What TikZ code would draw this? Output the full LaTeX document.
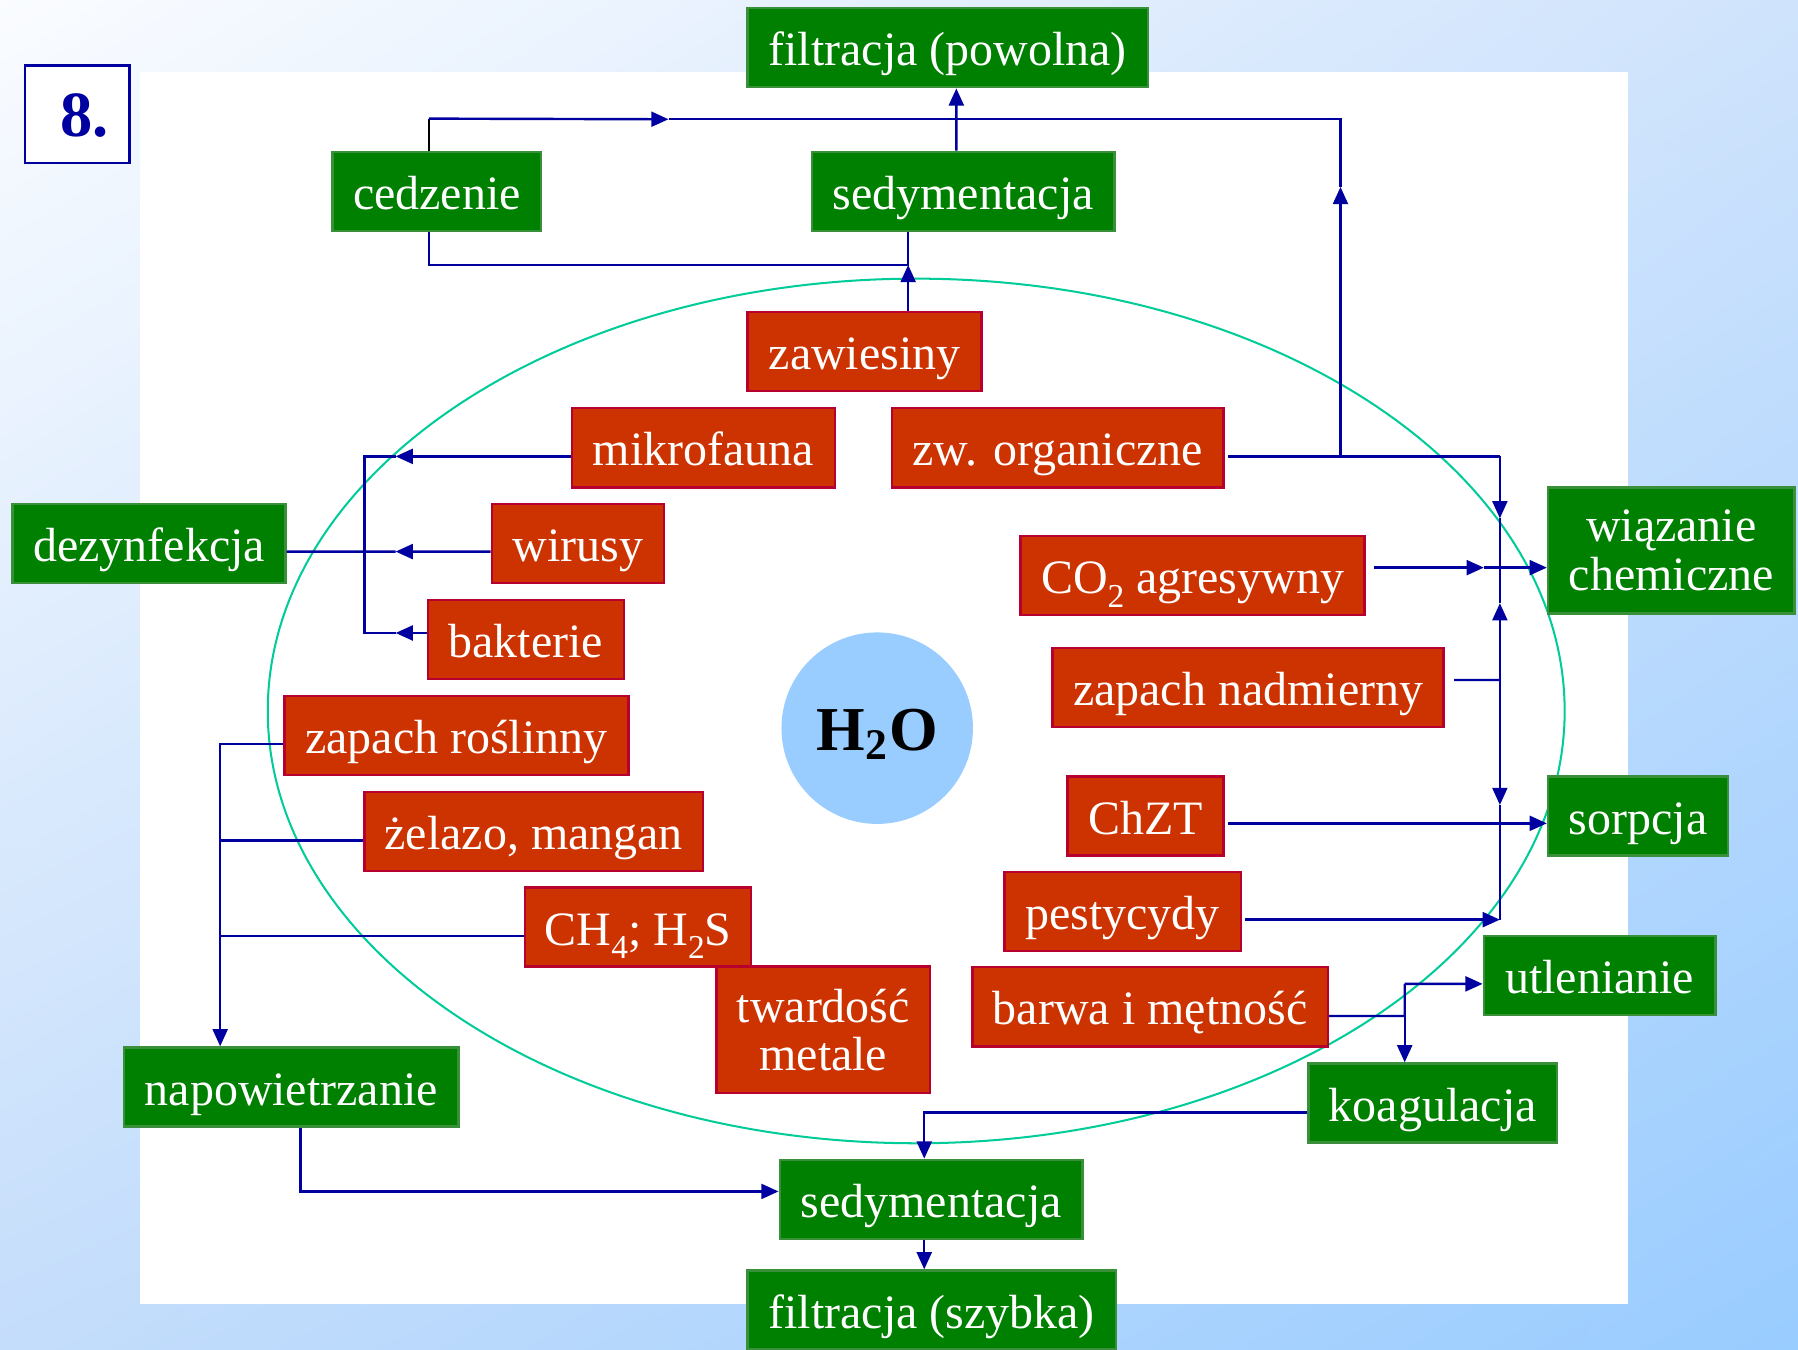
\documentclass[tikz,border=0pt]{standalone}
\usepackage{fontspec}
\setmainfont{Liberation Serif}
\usetikzlibrary{arrows.meta,shadings}
\definecolor{navy}{HTML}{0000A0}
\definecolor{leaf}{HTML}{008000}
\definecolor{leafline}{HTML}{3A8F3A}
\definecolor{brick}{HTML}{CC3300}
\definecolor{brickline}{HTML}{B8002E}
\definecolor{ring}{HTML}{00CC99}
\definecolor{sky}{HTML}{99CCFF}
\definecolor{bgul}{HTML}{FAFCFF}
\definecolor{bgur}{HTML}{CFE3FC}
\definecolor{bgll}{HTML}{C4DDFB}
\definecolor{bglr}{HTML}{99CCFF}
\newcommand\chsub[1]{\raisebox{-0.28em}{\fontsize{8.3}{9}\selectfont #1}}
\tikzset{
  tile/.style={
    inner sep=0pt, minimum height=0.69cm, line width=0.6pt,
    align=center, text=white, font=\fontsize{11.9}{12}\selectfont
  },
  proc/.style={tile, draw=leafline, fill=leaf, text height=9pt, text depth=0pt},
  issue/.style={tile, draw=brickline, fill=brick, text height=9pt, text depth=0pt},
  proctwo/.style={tile, draw=leafline, fill=leaf, minimum height=1.10cm},
  issuetwo/.style={tile, draw=brickline, fill=brick, minimum height=1.10cm},
  wire/.style={draw=navy, line width=0.6pt},
  arrow/.style={wire, -{Triangle[length=1.5mm,width=1.3mm]}}
}

\begin{document}
\begin{tikzpicture}
  \useasboundingbox (0,0) rectangle (15.68,-11.77);
  \shade[upper left=bgul, upper right=bgur, lower left=bgll, lower right=bglr]
    (0,0) rectangle (15.68,-11.77);
  \fill[white] (1.22,-0.63) rectangle (14.20,-11.37);
  \draw[ring, line width=0.5pt] (7.99,-6.20) ellipse [x radius=5.655, y radius=3.77];

  \node[draw=navy, fill=white, line width=0.6pt, minimum width=0.91cm, minimum height=0.85cm,
        inner sep=0pt, text=navy, text height=11pt, text depth=0pt,
        font=\fontsize{16}{16}\selectfont\bfseries] (num) at (0.675,-0.995) {\hspace{0.12cm}8.};
  \node[circle, fill=sky, minimum size=1.67cm, inner sep=0pt, text height=11pt, text depth=0pt,
        font=\fontsize{15.5}{16}\selectfont\bfseries] (h2o) at (7.65,-6.35) {H\textsubscript{2}O};

  \node[proc, minimum width=3.49cm] (filtP) at (8.265,-0.415) {filtracja (powolna)};
  \node[proc, minimum width=1.82cm] (cedz) at (3.81,-1.67) {cedzenie};
  \node[proc, minimum width=2.64cm] (sedT) at (8.40,-1.67) {sedymentacja};
  \node[issue, minimum width=2.04cm] (zaw) at (7.54,-3.065) {zawiesiny};
  \node[issue, minimum width=2.29cm] (mikro) at (6.135,-3.905) {mikrofauna};
  \node[issue, minimum width=2.89cm] (org) at (9.225,-3.905) {zw. organiczne};
  \node[proc, minimum width=2.38cm] (dez) at (1.30,-4.74) {dezynfekcja};
  \node[issue, minimum width=1.50cm] (wir) at (5.04,-4.74) {wirusy};
  \node[issue, minimum width=3.00cm] (co2) at (10.40,-5.02) {CO\chsub{2} agresywny};
  \node[proctwo, minimum width=2.15cm] (wiaz) at (14.575,-4.80) {wiązanie\\chemiczne};
  \node[issue, minimum width=1.71cm] (bakt) at (4.585,-5.575) {bakterie};
  \node[issue, minimum width=3.41cm] (zapN) at (10.885,-5.995) {zapach nadmierny};
  \node[issue, minimum width=3.00cm] (zapR) at (3.98,-6.415) {zapach roślinny};
  \node[issue, minimum width=2.95cm] (fe) at (4.655,-7.25) {żelazo, mangan};
  \node[issue, minimum width=1.36cm] (chzt) at (9.99,-7.115) {ChZT};
  \node[proc, minimum width=1.57cm] (sorp) at (14.285,-7.115) {sorpcja};
  \node[issue, minimum width=2.06cm] (pest) at (9.79,-7.95) {pestycydy};
  \node[issue, minimum width=1.97cm] (gas) at (5.565,-8.085) {CH\chsub{4}; H\chsub{2}S};
  \node[proc, minimum width=2.02cm] (utl) at (13.95,-8.505) {utlenianie};
  \node[issuetwo, minimum width=1.86cm] (tward) at (7.18,-8.98) {twardość\\metale};
  \node[issue, minimum width=3.10cm] (barwa) at (10.03,-8.78) {barwa i mętność};
  \node[proc, minimum width=2.92cm] (napow) at (2.54,-9.48) {napowietrzanie};
  \node[proc, minimum width=2.17cm] (koag) at (12.495,-9.62) {koagulacja};
  \node[proc, minimum width=2.64cm] (sedB) at (8.12,-10.46) {sedymentacja};
  \node[proc, minimum width=3.21cm] (filtS) at (8.125,-11.425) {filtracja (szybka)};

  \coordinate (cTip) at (5.83,-1.04);
  \coordinate (tr) at (11.69,-1.04);
  \coordinate (oTip) at (11.69,-1.63);
  \coordinate (oJ) at (11.69,-3.98);
  \coordinate (zTip) at (7.92,-2.31);
  \coordinate (bTop) at (13.08,-3.98);
  \coordinate (bTip1) at (13.08,-4.52);
  \coordinate (bCo2) at (13.08,-4.95);
  \coordinate (bTip2) at (13.08,-5.26);
  \coordinate (bZap) at (13.08,-5.93);
  \coordinate (bTip3) at (13.08,-7.02);
  \coordinate (bBot) at (13.08,-8.02);
  \coordinate (c2Tip) at (12.94,-4.95);
  \coordinate (kJ) at (12.25,-8.86);
  \coordinate (kTop) at (12.25,-8.58);
  \coordinate (lBus) at (1.92,-6.49);
  \coordinate (mTip) at (3.45,-3.98);
  \coordinate (wTip) at (3.45,-4.81);
  \coordinate (bkTip) at (3.45,-5.52);
  \coordinate (dTop) at (3.18,-3.98);
  \coordinate (dBot) at (3.18,-5.52);

  \draw[arrow] ([xshift=-0.06cm]sedT.north) -- ([xshift=0.075cm]filtP.south);
  \draw[wire, draw=black] ([xshift=-0.07cm]cedz.north) -- ++(0,0.28);
  \draw[arrow] ([xshift=-0.07cm,yshift=0.28cm]cedz.north) -- (cTip);
  \draw[wire] (cTip) -- (tr) -- (oTip);
  \draw[arrow] (oJ) -- (oTip);
  \draw[wire] ([xshift=0.03cm,yshift=-0.075cm]org.east) -- (bTop);
  \draw[arrow] (bTop) -- (bTip1);
  \draw[wire] (bTip1) -- (bCo2);
  \draw[arrow] ([xshift=0.07cm,yshift=0.07cm]co2.east) -- (c2Tip);
  \draw[arrow] (c2Tip) -- (wiaz.west |- c2Tip);
  \draw[wire] ([xshift=0.08cm,yshift=0.065cm]zapN.east) -- (bZap);
  \draw[arrow] (bZap) -- (bTip2);
  \draw[wire] (bTip2) -- (bCo2);
  \draw[arrow] (bZap) -- (bTip3);
  \draw[wire] (bTip3) -- (bBot);
  \draw[arrow] ([xshift=0.03cm,yshift=-0.065cm]chzt.east) -- ([yshift=-0.065cm]sorp.west);
  \draw[arrow] ([xshift=0.03cm,yshift=-0.07cm]pest.east) -- (bBot);
  \draw[wire] ([yshift=-0.08cm]barwa.east) -- (kJ) -- (kTop);
  \draw[arrow] (kTop) -- ([yshift=-0.075cm]utl.west);
  \draw[arrow] (kTop) -- (kTop |- koag.north);
  \draw[arrow] ([yshift=-0.08cm]koag.west) -| ([xshift=-0.06cm]sedB.north);
  \draw[arrow] ([xshift=-0.06cm]sedB.south) -- ([xshift=-0.065cm]filtS.north);
  \draw[arrow] ([xshift=0.08cm]napow.south) |- ([yshift=0.07cm]sedB.west);
  \draw[arrow] ([yshift=-0.075cm]zapR.west) -| ([xshift=-0.62cm]napow.north);
  \draw[wire] ([yshift=-0.08cm]fe.west) -| (lBus);
  \draw[wire] ([yshift=-0.075cm]gas.west) -| (lBus);
  \draw[arrow] ([yshift=-0.075cm]mikro.west) -- (mTip);
  \draw[wire] (mTip) -- (dTop) -- (dBot) -- (bkTip);
  \draw[arrow] ([yshift=0.055cm]bakt.west) -- (bkTip);
  \draw[arrow] ([yshift=-0.07cm]wir.west) -- (wTip);
  \draw[wire] (wTip) -- ([yshift=-0.07cm]dez.east);
  \draw[arrow] ([xshift=0.38cm]zaw.north) -- (zTip);
  \draw[wire] ([xshift=-0.07cm]cedz.south) |- (zTip) -- ([xshift=-0.48cm]sedT.south);
\end{tikzpicture}
\end{document}
